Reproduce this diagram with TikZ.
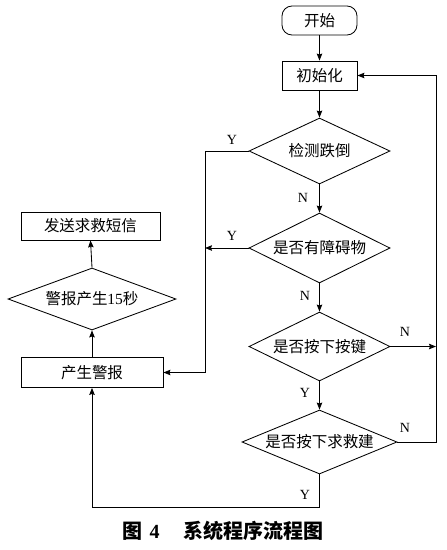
\documentclass[tikz,border=0pt]{standalone}
\usepackage{fontspec}
\setmainfont{Liberation Serif}
\newfontfamily\cjk{Noto Sans CJK SC}
\usetikzlibrary{shapes.geometric,arrows.meta}
\tikzset{
  base/.style={draw, line width=0.85pt, inner sep=0pt, font=\cjk\fontsize{15.5}{17}\selectfont},
  boxnode/.style={base, rectangle},
  startnode/.style={base, rectangle, rounded corners=10pt},
  decide/.style={base, diamond},
  conn/.style={line width=0.85pt, -{Stealth[length=7pt,width=5.5pt,inset=1pt]}},
  lab/.style={font=\fontsize{14}{16}\selectfont, inner sep=0pt}
}
\begin{document}
\begin{tikzpicture}[x=1pt,y=-1pt]
\useasboundingbox (0,0) rectangle (447,550);
\node[startnode, minimum width=75pt, minimum height=29pt] (start) at (319.5,20.5) {开始};
\node[boxnode, minimum width=75pt, minimum height=29pt] (init) at (319.5,75.5) {初始化};
\node[decide, minimum width=141pt, minimum height=66pt, aspect=2.1] (d1) at (319.5,151) {检测跌倒};
\node[decide, minimum width=141pt, minimum height=70pt, aspect=2.0] (d2) at (319.5,248) {是否有障碍物};
\node[decide, minimum width=141pt, minimum height=69pt, aspect=2.0] (d3) at (319.5,346.5) {是否按下按键};
\node[decide, minimum width=155pt, minimum height=64pt, aspect=2.4] (d4) at (319.5,442) {是否按下求救建};
\node[boxnode, minimum width=139pt, minimum height=28pt] (sms) at (90.5,226) {发送求救短信};
\node[decide, minimum width=168pt, minimum height=62pt, aspect=2.7] (d5) at (92,299) {警报产生{\rmfamily 15}秒};
\node[boxnode, minimum width=142pt, minimum height=30pt] (alarm) at (92,372.5) {产生警报};

\coordinate (c1) at (205,151);
\coordinate (c2) at (205,372.5);
\coordinate (c3) at (205,248);
\coordinate (c4) at (436,346.5);
\coordinate (c5) at (436,442);
\coordinate (c6) at (436,75.5);
\coordinate (c7) at (319.5,507);
\coordinate (c8) at (92,507);

\draw[conn] (start.south) -- (init.north);
\draw[conn] (init.south) -- (d1.north);
\draw[conn] (d1.south) -- (d2.north);
\draw[conn] (d2.south) -- (d3.north);
\draw[conn] (d3.south) -- (d4.north);
\draw[conn] (d1.west) -- (c1) -- (c2) -- (alarm.east);
\draw[conn] (d2.west) -- (c3);
\draw[conn] (d3.east) -- (c4);
\draw[conn] (d4.east) -- (c5) -- (c6) -- (init.east);
\draw[conn] (d4.south) -- (c7) -- (c8) -- (alarm.south);
\draw[conn] (alarm.north) -- (d5.south);
\draw[conn] (d5.north) -- (sms.south);

\node[lab] (y1) at (232,140) {Y};
\node[lab] (n1) at (303,198) {N};
\node[lab] (y2) at (232,236) {Y};
\node[lab] (n2) at (305,296) {N};
\node[lab] (n3) at (405,332) {N};
\node[lab] (y3) at (305,393) {Y};
\node[lab] (n4) at (405,428) {N};
\node[lab] (y4) at (305,495) {Y};

\node[inner sep=0pt, font=\cjk\bfseries\fontsize{20}{22}\selectfont] (cap) at (223,531) {图\hspace{0.35em}{\rmfamily\bfseries 4}\hspace{1.2em}系统程序流程图};
\end{tikzpicture}
\end{document}
